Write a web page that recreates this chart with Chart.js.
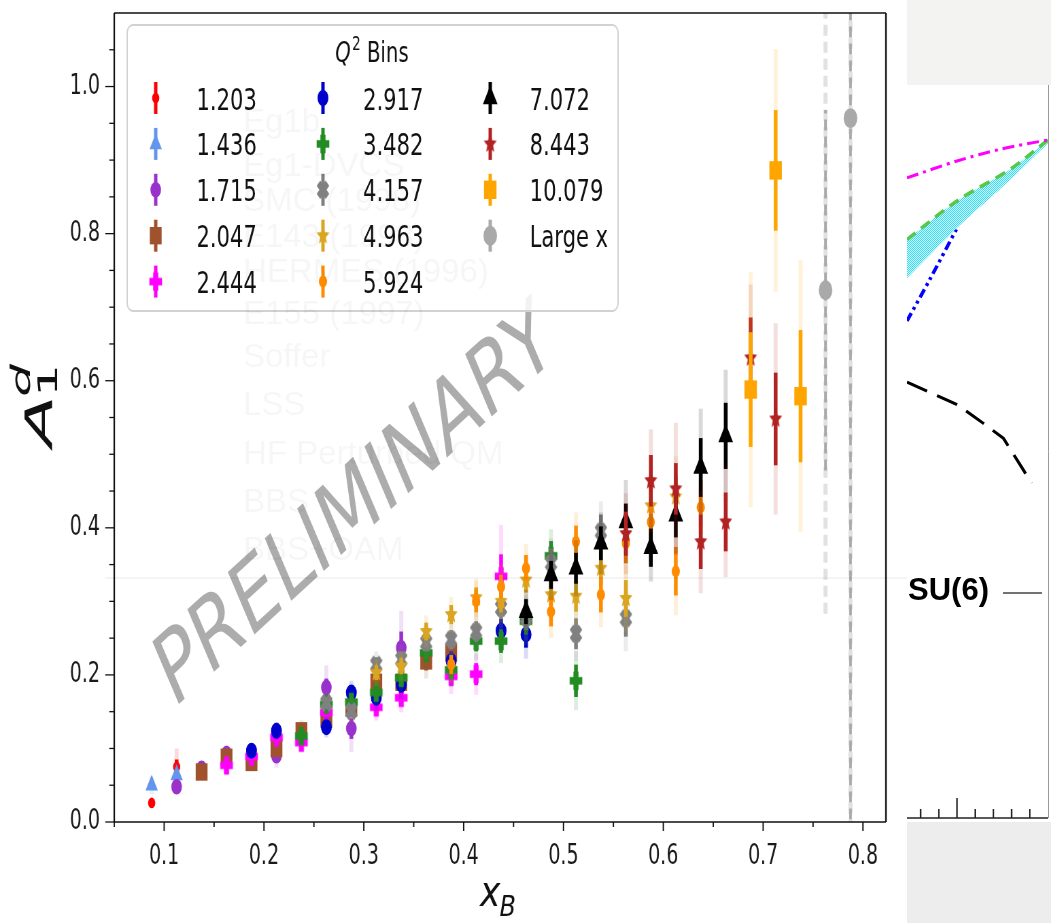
<!DOCTYPE html>
<html>
<head>
<meta charset="utf-8">
<script src="https://cdn.jsdelivr.net/npm/chart.js@4.4.1/dist/chart.umd.min.js"></script>
<style>
  html, body { margin: 0; padding: 0; background: #fff; }
  body { width: 1051px; height: 923px; position: relative; overflow: hidden; }
  #asym { position: absolute; left: 0; top: 0; }
  #side { position: absolute; left: 907px; top: 0; width: 144px; height: 923px; background: #ededed; }
  #sideTop { position: absolute; left: 0; top: 0; width: 144px; height: 85px; background: #f3f3f1; }
  #models { position: absolute; left: 0; top: 85px; background: #fff; }
</style>
</head>
<body>
<canvas id="asym" width="1334" height="923" style="width:907px;height:923px"></canvas>
<div id="side"><div id="sideTop"></div><canvas id="models" width="144" height="737" style="width:144px;height:737px"></canvas></div>
<script>
// the picture is a matplotlib figure squeezed sideways, so the canvas is drawn wide and shown narrow
const SQUEEZE = 907 / 1334

const xTicks = [0.1, 0.2, 0.3, 0.4, 0.5, 0.6, 0.7, 0.8]
const xMinorTicks = [0.05, 0.15, 0.25, 0.35, 0.45, 0.55, 0.65, 0.75]
const yTicks = [0.0, 0.2, 0.4, 0.6, 0.8, 1.0]
const yMinorTicks = [0.05, 0.1, 0.15, 0.25, 0.3, 0.35, 0.45, 0.5, 0.55, 0.65, 0.7, 0.75, 0.85, 0.9, 0.95, 1.05]

// [x_B, A1d, stat error, total error]
const bin1203 = [[0.0875, 0.026, 0.003, 0.006], [0.1125, 0.075, 0.010, 0.025]]
const bin1436 = [[0.0875, 0.050, 0.006, 0.012], [0.1125, 0.064, 0.008, 0.016]]
const bin1715 = [[0.1125, 0.048, 0.005, 0.010], [0.1375, 0.073, 0.005, 0.010], [0.1625, 0.093, 0.006, 0.012],
  [0.2125, 0.090, 0.008, 0.016], [0.2625, 0.183, 0.012, 0.030], [0.2875, 0.127, 0.014, 0.032], [0.3375, 0.237, 0.022, 0.050]]
const bin2047 = [[0.1375, 0.068, 0.005, 0.010], [0.1625, 0.088, 0.005, 0.010], [0.1875, 0.081, 0.005, 0.010],
  [0.2125, 0.100, 0.007, 0.012], [0.2375, 0.124, 0.007, 0.014], [0.2625, 0.140, 0.009, 0.016], [0.2875, 0.155, 0.010, 0.018],
  [0.3125, 0.190, 0.011, 0.020], [0.3375, 0.190, 0.012, 0.022], [0.3625, 0.219, 0.013, 0.024], [0.3875, 0.230, 0.014, 0.026]]
const bin2444 = [[0.1625, 0.077, 0.006, 0.010], [0.1875, 0.089, 0.006, 0.010], [0.2125, 0.115, 0.007, 0.012],
  [0.2375, 0.108, 0.007, 0.012], [0.2625, 0.149, 0.009, 0.016], [0.3125, 0.156, 0.010, 0.018], [0.3375, 0.169, 0.011, 0.020],
  [0.3875, 0.198, 0.013, 0.024], [0.4125, 0.201, 0.015, 0.028], [0.4375, 0.334, 0.030, 0.070]]
const bin2917 = [[0.1875, 0.097, 0.006, 0.010], [0.2125, 0.124, 0.007, 0.012], [0.2625, 0.129, 0.008, 0.014],
  [0.2875, 0.176, 0.009, 0.016], [0.3125, 0.169, 0.010, 0.018], [0.3375, 0.187, 0.011, 0.020], [0.3875, 0.219, 0.013, 0.024],
  [0.4375, 0.260, 0.016, 0.030], [0.4625, 0.255, 0.018, 0.033]]
const bin3482 = [[0.2375, 0.117, 0.007, 0.012], [0.2625, 0.160, 0.008, 0.014], [0.2875, 0.163, 0.009, 0.016],
  [0.3125, 0.176, 0.010, 0.018], [0.3375, 0.196, 0.011, 0.020], [0.3625, 0.230, 0.012, 0.022], [0.3875, 0.207, 0.013, 0.024],
  [0.4125, 0.246, 0.014, 0.026], [0.4375, 0.246, 0.016, 0.030], [0.4625, 0.273, 0.018, 0.032], [0.4875, 0.362, 0.020, 0.036],
  [0.5125, 0.192, 0.022, 0.040]]
const bin4157 = [[0.2625, 0.162, 0.008, 0.014], [0.2875, 0.151, 0.009, 0.016], [0.3125, 0.214, 0.010, 0.018],
  [0.3375, 0.221, 0.011, 0.020], [0.3625, 0.244, 0.012, 0.022], [0.3875, 0.248, 0.013, 0.024], [0.4125, 0.259, 0.014, 0.026],
  [0.4375, 0.291, 0.015, 0.028], [0.4625, 0.278, 0.017, 0.031], [0.4875, 0.352, 0.019, 0.034], [0.5125, 0.256, 0.021, 0.037],
  [0.5375, 0.395, 0.023, 0.041], [0.5625, 0.277, 0.025, 0.045]]
const bin4963 = [[0.3125, 0.203, 0.010, 0.018], [0.3375, 0.212, 0.011, 0.020], [0.3625, 0.259, 0.012, 0.022],
  [0.3875, 0.282, 0.013, 0.024], [0.4125, 0.305, 0.014, 0.026], [0.4375, 0.300, 0.015, 0.028], [0.4625, 0.329, 0.017, 0.031],
  [0.4875, 0.309, 0.019, 0.034], [0.5125, 0.307, 0.021, 0.037], [0.5375, 0.345, 0.023, 0.041], [0.5625, 0.304, 0.025, 0.045],
  [0.5875, 0.430, 0.028, 0.050], [0.6125, 0.442, 0.031, 0.055]]
const bin5924 = [[0.3875, 0.214, 0.013, 0.024], [0.4125, 0.300, 0.015, 0.028], [0.4375, 0.320, 0.016, 0.030],
  [0.4625, 0.345, 0.018, 0.033], [0.4875, 0.286, 0.020, 0.036], [0.5125, 0.381, 0.022, 0.040], [0.5375, 0.309, 0.024, 0.044],
  [0.5625, 0.379, 0.027, 0.048], [0.5875, 0.408, 0.030, 0.054], [0.6125, 0.341, 0.033, 0.060], [0.6375, 0.428, 0.037, 0.066]]
const bin7072 = [[0.4625, 0.286, 0.017, 0.030], [0.4875, 0.336, 0.019, 0.034], [0.5125, 0.345, 0.021, 0.038],
  [0.5375, 0.379, 0.023, 0.042], [0.5625, 0.408, 0.025, 0.057], [0.5875, 0.373, 0.026, 0.046], [0.6125, 0.417, 0.030, 0.052],
  [0.6375, 0.482, 0.040, 0.080], [0.6625, 0.525, 0.045, 0.090]]
const bin8443 = [[0.5625, 0.392, 0.030, 0.055], [0.5875, 0.464, 0.035, 0.070], [0.6125, 0.453, 0.035, 0.090],
  [0.6375, 0.381, 0.037, 0.070], [0.6625, 0.408, 0.040, 0.075], [0.6875, 0.631, 0.055, 0.100], [0.7125, 0.548, 0.063, 0.130]]
const bin10079 = [[0.6875, 0.588, 0.078, 0.160], [0.7125, 0.886, 0.082, 0.165], [0.7375, 0.579, 0.090, 0.185]]
const binLargeX = [[0.7625, 0.723, 0.245, 0.440], [0.7875, 0.957, 1.000, 1.200]]

const q2Labels = ['1.203', '1.436', '1.715', '2.047', '2.444', '2.917', '3.482', '4.157', '4.963', '5.924',
  '7.072', '8.443', '10.079', 'Large x']
const q2Data = [bin1203, bin1436, bin1715, bin2047, bin2444, bin2917, bin3482, bin4157, bin4963, bin5924,
  bin7072, bin8443, bin10079, binLargeX]
const q2Colors = ['#ff0000', '#6495ed', '#9932cc', '#a0522d', '#ff00ff', '#0000cd', '#228b22', '#808080',
  '#daa520', '#ff8c00', '#000000', '#b22222', '#ffa500', '#a9a9a9']
const q2Markers = ['circle', 'triangle', 'circle', 'rect', 'plus', 'circle', 'plus', 'cross',
  'star', 'circle', 'triangle', 'star', 'rect', 'circle']
const q2Sizes = [5.3, 10.5, 7.8, 12.3, 9.3, 8, 9.3, 9.3, 10, 6, 12.5, 10, 13, 10]

// faint leftovers of the other figure that was pasted over this one
const ghostLabels = ['Eg1b', 'Eg1-DVCS', 'SMC (1998)', 'E143 (1998)', 'HERMES (1996)', 'E155 (1997)',
  'Soffer', 'LSS', 'HF Perturbed QM', 'BBS', 'BBS+OAM']

function withAlpha(hex, a) {
  const n = parseInt(hex.slice(1), 16)
  return `rgba(${n >> 16},${(n >> 8) & 255},${n & 255},${a})`
}

function makeShape(shape, color, r) {
  const c = document.createElement('canvas')
  const n = Math.ceil(2.3 * r + 2)
  c.width = n
  c.height = n
  const g = c.getContext('2d')
  g.fillStyle = color
  g.translate(n / 2, n / 2)
  g.beginPath()
  if (shape === 'star') {
    for (let k = 0; k < 10; k++) {
      const rr = k % 2 ? r * 0.45 : r
      const a = -Math.PI / 2 + k * Math.PI / 5
      g.lineTo(rr * Math.cos(a), rr * Math.sin(a))
    }
  } else {
    if (shape === 'cross') g.rotate(Math.PI / 4)
    const t = r / 2.5
    g.moveTo(-t, -r); g.lineTo(t, -r); g.lineTo(t, -t); g.lineTo(r, -t); g.lineTo(r, t); g.lineTo(t, t)
    g.lineTo(t, r); g.lineTo(-t, r); g.lineTo(-t, t); g.lineTo(-r, t); g.lineTo(-r, -t); g.lineTo(-t, -t)
  }
  g.closePath()
  g.fill()
  return c
}

function markerStyle(i) {
  const m = q2Markers[i]
  if (m === 'star' || m === 'plus' || m === 'cross') return makeShape(m, q2Colors[i], q2Sizes[i])
  return m
}

const styles = q2Labels.map((l, i) => markerStyle(i))

const errorBars = {
  id: 'errorBars',
  beforeDatasetDraw(chart, args) {
    const i = args.index
    const ctx = chart.ctx
    const a = chart.chartArea
    const sx = chart.scales.x
    const sy = chart.scales.y
    const large = q2Labels[i] === 'Large x'
    ctx.save()
    ctx.beginPath()
    ctx.rect(a.left, a.top, a.right - a.left, a.bottom - a.top)
    ctx.clip()
    if (large) ctx.setLineDash([11, 6])
    q2Data[i].forEach((p) => {
      const px = sx.getPixelForValue(p[0])
      const bar = (err, color, width) => {
        ctx.strokeStyle = color
        ctx.lineWidth = width
        ctx.beginPath()
        ctx.moveTo(px, sy.getPixelForValue(p[1] - err))
        ctx.lineTo(px, sy.getPixelForValue(p[1] + err))
        ctx.stroke()
      }
      bar(p[3], withAlpha(q2Colors[i], large ? 0.35 : 0.15), 6)
      bar(p[2], q2Colors[i], large ? 4 : 5.5)
    })
    ctx.restore()
  },
}

const watermark = {
  id: 'watermark',
  beforeDatasetsDraw(chart) {
    const ctx = chart.ctx
    ctx.save()
    ctx.translate(524, 510)
    ctx.rotate(-32 * Math.PI / 180)
    ctx.font = '101px "DejaVu Sans", sans-serif'
    ctx.textAlign = 'center'
    ctx.textBaseline = 'middle'
    ctx.fillStyle = 'rgba(140,140,140,0.72)'
    ctx.fillText('PRELIMINARY', 0, 0)
    ctx.restore()
  },
}

const ghost = {
  id: 'ghost',
  afterDraw(chart) {
    const ctx = chart.ctx
    ctx.save()
    // drawn in screen units, it was not squeezed
    ctx.scale(1 / SQUEEZE, 1)
    ctx.fillStyle = 'rgba(0,0,0,0.035)'
    ctx.font = '33px "Liberation Sans", Arial, sans-serif'
    const rows = [132, 176, 211, 247, 282, 324, 367, 415, 464, 512, 560]
    ghostLabels.forEach((t, k) => ctx.fillText(t, 243, rows[k]))
    ctx.strokeStyle = 'rgba(0,0,0,0.045)'
    ctx.lineWidth = 2
    ctx.beginPath()
    ctx.moveTo(105, 578)
    ctx.lineTo(907, 578)
    ctx.stroke()
    ctx.restore()
  },
}

const frame = {
  id: 'frame',
  afterDatasetsDraw(chart) {
    const ctx = chart.ctx
    const a = chart.chartArea
    const sx = chart.scales.x
    const sy = chart.scales.y
    ctx.save()
    ctx.strokeStyle = '#111'
    // ticks
    ctx.lineWidth = 1.3 / SQUEEZE
    xTicks.concat(xMinorTicks).forEach((v) => {
      const px = sx.getPixelForValue(v)
      const len = xTicks.includes(v) ? 9 : 5
      ctx.beginPath(); ctx.moveTo(px, a.bottom); ctx.lineTo(px, a.bottom + len); ctx.stroke()
    })
    ctx.lineWidth = 1.3
    yTicks.concat(yMinorTicks).forEach((v) => {
      const py = sy.getPixelForValue(v)
      const len = (yTicks.includes(v) ? 9 : 5) / SQUEEZE
      ctx.beginPath(); ctx.moveTo(a.left, py); ctx.lineTo(a.left - len, py); ctx.stroke()
    })
    // spines
    ctx.lineWidth = 1.6
    ctx.beginPath()
    ctx.moveTo(a.left, a.top); ctx.lineTo(a.right, a.top)
    ctx.moveTo(a.left, a.bottom); ctx.lineTo(a.right, a.bottom)
    ctx.stroke()
    ctx.lineWidth = 1.6 / SQUEEZE
    ctx.beginPath()
    ctx.moveTo(a.left, a.top); ctx.lineTo(a.left, a.bottom)
    ctx.moveTo(a.right, a.top); ctx.lineTo(a.right, a.bottom)
    ctx.stroke()
    ctx.restore()
  },
}

const legendBox = {
  id: 'legendBox',
  afterDatasetsDraw(chart) {
    const ctx = chart.ctx
    ctx.save()
    ctx.beginPath()
    ctx.roundRect(187, 25, 722, 286, 8)
    ctx.fillStyle = 'rgba(255,255,255,0.85)'
    ctx.fill()
    ctx.strokeStyle = '#d2d2d2'
    ctx.lineWidth = 2
    ctx.stroke()

    // title  Q^2 Bins
    ctx.fillStyle = '#111'
    const fQ = 'italic 29px "DejaVu Sans", sans-serif'
    const f2 = '20px "DejaVu Sans", sans-serif'
    const fB = '29px "DejaVu Sans", sans-serif'
    ctx.font = fQ; const wQ = ctx.measureText('Q').width
    ctx.font = f2; const w2 = ctx.measureText('2').width
    ctx.font = fB; const wB = ctx.measureText(' Bins').width
    let tx = 547 - (wQ + w2 + wB + 2) / 2
    ctx.font = fQ; ctx.fillText('Q', tx, 62); tx += wQ + 2
    ctx.font = f2; ctx.fillText('2', tx, 50); tx += w2
    ctx.font = fB; ctx.fillText(' Bins', tx, 62)

    ctx.font = '31px "DejaVu Sans", sans-serif'
    q2Labels.forEach((lab, i) => {
      const col = Math.floor(i / 5)
      const row = i % 5
      const mx = [229, 475, 721][col]
      const lx = [289, 534, 779][col]
      const my = 98 + row * 45.9
      ctx.strokeStyle = q2Colors[i]
      ctx.lineWidth = 5
      ctx.beginPath(); ctx.moveTo(mx, my - 16); ctx.lineTo(mx, my + 16); ctx.stroke()
      ctx.fillStyle = q2Colors[i]
      Chart.helpers.drawPoint(ctx, { pointStyle: styles[i], radius: q2Sizes[i], borderWidth: 0, rotation: 0 }, mx, my)
      ctx.fillStyle = '#111'
      ctx.fillText(lab, lx, my + 11.5)
    })
    ctx.restore()
  },
}

const axisTitles = {
  id: 'axisTitles',
  afterDraw(chart) {
    const ctx = chart.ctx
    ctx.save()
    ctx.scale(1 / SQUEEZE, 1)
    ctx.fillStyle = '#111'
    // x_B
    ctx.save()
    ctx.translate(480, 906)
    ctx.scale(0.82, 1)
    ctx.font = 'italic 42px "DejaVu Sans", sans-serif'
    ctx.fillText('x', 0, 0)
    const wx = ctx.measureText('x').width
    ctx.font = 'italic 29px "DejaVu Sans", sans-serif'
    ctx.fillText('B', wx - 1, 10)
    ctx.restore()
    // A_1^d
    ctx.save()
    ctx.translate(52, 447)
    ctx.rotate(-Math.PI / 2)
    ctx.scale(1, 0.5)
    ctx.font = 'italic 76px "DejaVu Sans", sans-serif'
    ctx.fillText('A', 0, 0)
    const wa = ctx.measureText('A').width
    ctx.font = '52px "DejaVu Sans", sans-serif'
    ctx.fillText('1', wa - 2, 10)
    ctx.font = 'italic 52px "DejaVu Sans", sans-serif'
    ctx.fillText('d', wa - 2, -44)
    ctx.restore()
    ctx.restore()
  },
}

const tickFont = { family: '"DejaVu Sans", sans-serif', size: 28 }

function noPadding(s) {
  s.paddingTop = 0
  s.paddingBottom = 0
  s.paddingLeft = 0
  s.paddingRight = 0
}

new Chart(document.getElementById('asym'), {
  type: 'scatter',
  data: {
    datasets: q2Labels.map((label, i) => ({
      label,
      data: q2Data[i].map((p) => ({ x: p[0], y: p[1] })),
      pointStyle: styles[i],
      pointRadius: q2Sizes[i],
      pointBackgroundColor: q2Colors[i],
      pointBorderWidth: 0,
      order: 100 - i,
    })),
  },
  options: {
    responsive: false,
    animation: false,
    devicePixelRatio: 1,
    layout: { padding: { left: 0, right: 31, top: 8, bottom: 0 } },
    plugins: { legend: { display: false }, tooltip: { enabled: false } },
    scales: {
      x: {
        type: 'linear',
        min: 0.05,
        max: 0.823,
        grid: { display: false, drawTicks: false },
        border: { display: false },
        ticks: { font: tickFont, color: '#1a1a1a', padding: 18, maxRotation: 0, autoSkip: false,
          callback: (v) => v.toFixed(1) },
        afterBuildTicks: (s) => { s.ticks = xTicks.map((v) => ({ value: v })) },
        afterFit: (s) => { s.height = 101; noPadding(s) },
      },
      y: {
        min: 0,
        max: 1.1,
        grid: { display: false, drawTicks: false },
        border: { display: false },
        ticks: { font: tickFont, color: '#1a1a1a', padding: 21, callback: (v) => v.toFixed(1) },
        afterBuildTicks: (s) => { s.ticks = yTicks.map((v) => ({ value: v })) },
        afterFit: (s) => { s.width = 168; noPadding(s) },
      },
    },
  },
  plugins: [watermark, errorBars, frame, legendBox, axisTitles, ghost],
})

// ---- the model curves of the other plot, visible on the right ----
const dashDotX = [0.845, 0.9, 0.95, 1.0]
const dashDotY = [0.944, 0.969, 0.987, 1.0]
const bandX = [0.845, 0.9, 0.96, 1.0]
const dashedY = [0.853, 0.91, 0.958, 1.0]
const bandLowY = [0.796, 0.870, 0.943, 0.995]
const dotDotX = [0.845, 0.87, 0.9]
const dotDotY = [0.733, 0.794, 0.870]
const longDashX = [0.845, 0.901, 0.929, 0.951, 0.982]
const longDashY = [0.643, 0.609, 0.582, 0.560, 0.494]
const sideTicks = [0.86, 0.88, 0.9, 0.92, 0.94, 0.96, 0.98]

function pts(xs, ys) { return xs.map((x, k) => ({ x, y: ys[k] })) }

function hatch() {
  const c = document.createElement('canvas')
  c.width = 2
  c.height = 2
  const g = c.getContext('2d')
  g.fillStyle = '#ccf8ff'
  g.fillRect(0, 0, 2, 2)
  g.fillStyle = '#3edcf2'
  g.fillRect(0, 0, 1, 1)
  g.fillRect(1, 1, 1, 1)
  return g.createPattern(c, 'repeat')
}

const sideAxis = {
  id: 'sideAxis',
  afterDraw(chart) {
    const ctx = chart.ctx
    const a = chart.chartArea
    const sx = chart.scales.x
    ctx.save()
    ctx.strokeStyle = '#999'
    ctx.lineWidth = 1
    ctx.beginPath(); ctx.moveTo(a.right + 0.5, a.top); ctx.lineTo(a.right + 0.5, a.bottom); ctx.stroke()
    ctx.strokeStyle = '#222'
    ctx.lineWidth = 1.5
    ctx.beginPath(); ctx.moveTo(a.left, a.bottom); ctx.lineTo(a.right, a.bottom); ctx.stroke()
    sideTicks.forEach((v) => {
      const px = sx.getPixelForValue(v)
      const len = v === 0.9 ? 20 : 9
      ctx.beginPath(); ctx.moveTo(px, a.bottom); ctx.lineTo(px, a.bottom - len); ctx.stroke()
    })
    ctx.fillStyle = '#000'
    ctx.font = 'bold 31px "Liberation Sans", Arial, sans-serif'
    ctx.fillText('SU(6)', 1, 515)
    ctx.strokeStyle = '#444'
    ctx.lineWidth = 1.5
    ctx.beginPath(); ctx.moveTo(96, 508); ctx.lineTo(135, 508); ctx.stroke()
    ctx.restore()
  },
}

new Chart(document.getElementById('models'), {
  type: 'line',
  data: {
    datasets: [
      { data: pts(dashDotX, dashDotY), borderColor: '#ff00ff', borderWidth: 3, borderDash: [12, 5, 3, 5], tension: 0.3 },
      { data: pts(bandX, dashedY), borderColor: '#55c848', borderWidth: 3.5, borderDash: [11, 7], tension: 0.3 },
      { data: pts(bandX, bandLowY), borderWidth: 0, fill: { target: 1 }, backgroundColor: hatch(), tension: 0.3 },
      { data: pts(dotDotX, dotDotY), borderColor: '#0000ff', borderWidth: 3.5, borderDash: [9, 4, 3, 4, 3, 4], tension: 0.3 },
      { data: pts(longDashX, longDashY), borderColor: '#000', borderWidth: 3, borderDash: [22, 11], tension: 0 },
    ],
  },
  options: {
    responsive: false,
    animation: false,
    devicePixelRatio: 1,
    layout: { padding: { left: 0, right: 3, top: 0, bottom: 4 } },
    elements: { point: { radius: 0 } },
    plugins: { legend: { display: false }, tooltip: { enabled: false } },
    scales: {
      x: { type: 'linear', min: 0.845, max: 1.0, display: false },
      y: { min: 0, max: 1.081, display: false },
    },
  },
  plugins: [sideAxis],
})
</script>
</body>
</html>
